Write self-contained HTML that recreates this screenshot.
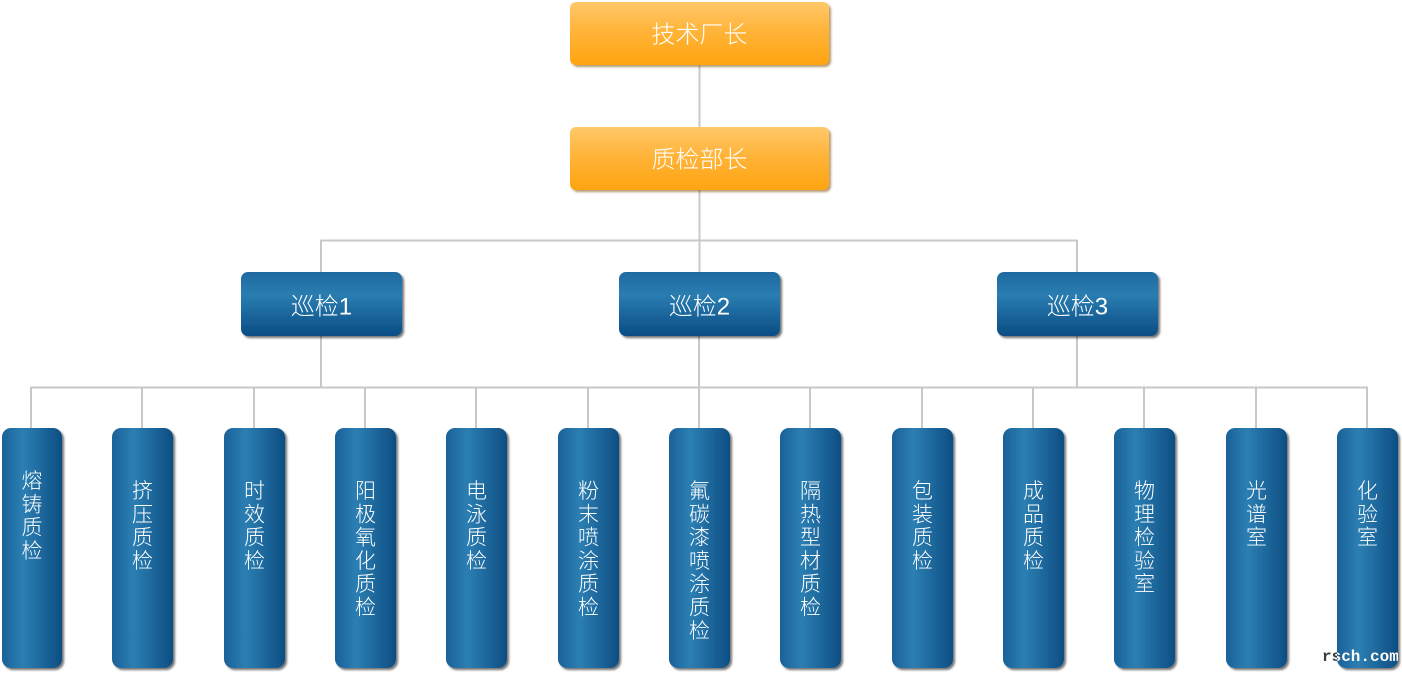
<!DOCTYPE html>
<html>
<head>
<meta charset="utf-8">
<style>
html,body{margin:0;padding:0;background:#fff;}
svg{display:block;}
text{font-family:"Liberation Sans","Noto Sans CJK SC","WenQuanYi Zen Hei",sans-serif;fill:#fff;font-weight:300;}
</style>
</head>
<body>
<svg width="1402" height="673" viewBox="0 0 1402 673" xmlns="http://www.w3.org/2000/svg">
<defs>
  <linearGradient id="og" x1="0" y1="0" x2="0" y2="1">
    <stop offset="0" stop-color="#ffc86a"/>
    <stop offset="0.45" stop-color="#ffb43a"/>
    <stop offset="1" stop-color="#ffa410"/>
  </linearGradient>
  <linearGradient id="bg" x1="0" y1="0" x2="0" y2="1">
    <stop offset="0" stop-color="#1f6aa0"/>
    <stop offset="0.35" stop-color="#2a7db1"/>
    <stop offset="1" stop-color="#0a4d84"/>
  </linearGradient>
  <linearGradient id="vg" x1="0" y1="0" x2="1" y2="0">
    <stop offset="0" stop-color="#1a6198"/>
    <stop offset="0.35" stop-color="#2c7fb3"/>
    <stop offset="1" stop-color="#0d4e83"/>
  </linearGradient>
  <filter id="sh" x="-10%" y="-10%" width="125%" height="125%">
    <feDropShadow dx="2" dy="2" stdDeviation="1" flood-color="#000" flood-opacity="0.55"/>
  </filter>
  <filter id="sho" x="-10%" y="-10%" width="125%" height="130%">
    <feDropShadow dx="2" dy="2" stdDeviation="1" flood-color="#7a4a00" flood-opacity="0.55"/>
  </filter>
  <clipPath id="lastbox">
    <rect x="1337" y="428" width="61" height="240" rx="9"/>
  </clipPath>
</defs>

<!-- connectors -->
<g stroke="#c8c8c8" stroke-width="2" fill="none">
  <line x1="699.5" y1="65" x2="699.5" y2="127"/>
  <line x1="699.5" y1="190" x2="699.5" y2="272"/>
  <line x1="320.5" y1="240.5" x2="1077.5" y2="240.5"/>
  <line x1="321" y1="240" x2="321" y2="272"/>
  <line x1="1077" y1="240" x2="1077" y2="272"/>
  <line x1="321" y1="336" x2="321" y2="388"/>
  <line x1="699" y1="336" x2="699" y2="388"/>
  <line x1="1077" y1="336" x2="1077" y2="388"/>
  <line x1="30" y1="387.5" x2="1368" y2="387.5"/>
  <line x1="31" y1="387" x2="31" y2="428"/>
  <line x1="142" y1="387" x2="142" y2="428"/>
  <line x1="254" y1="387" x2="254" y2="428"/>
  <line x1="365" y1="387" x2="365" y2="428"/>
  <line x1="476" y1="387" x2="476" y2="428"/>
  <line x1="588" y1="387" x2="588" y2="428"/>
  <line x1="699" y1="387" x2="699" y2="428"/>
  <line x1="810" y1="387" x2="810" y2="428"/>
  <line x1="922" y1="387" x2="922" y2="428"/>
  <line x1="1033" y1="387" x2="1033" y2="428"/>
  <line x1="1144" y1="387" x2="1144" y2="428"/>
  <line x1="1256" y1="387" x2="1256" y2="428"/>
  <line x1="1367" y1="387" x2="1367" y2="428"/>
</g>

<!-- top boxes -->
<rect x="570" y="2" width="259" height="63" rx="6" fill="url(#og)" filter="url(#sho)"/>
<text x="699.5" y="42.5" font-size="24" text-anchor="middle">技术厂长</text>
<rect x="570" y="127" width="259" height="63" rx="6" fill="url(#og)" filter="url(#sho)"/>
<text x="699.5" y="167.5" font-size="24" text-anchor="middle">质检部长</text>

<!-- middle boxes -->
<rect x="241" y="272" width="161" height="64" rx="7" fill="url(#bg)" filter="url(#sh)"/>
<text x="321.5" y="314.5" font-size="24" text-anchor="middle">巡检1</text>
<rect x="619" y="272" width="161" height="64" rx="7" fill="url(#bg)" filter="url(#sh)"/>
<text x="699.5" y="314.5" font-size="24" text-anchor="middle">巡检2</text>
<rect x="997" y="272" width="161" height="64" rx="7" fill="url(#bg)" filter="url(#sh)"/>
<text x="1077.5" y="314.5" font-size="24" text-anchor="middle">巡检3</text>

<!-- bottom boxes -->
<g filter="url(#sh)">
  <rect x="2" y="428" width="60" height="240" rx="9" fill="url(#vg)"/>
  <rect x="112" y="428" width="61" height="240" rx="9" fill="url(#vg)"/>
  <rect x="224" y="428" width="61" height="240" rx="9" fill="url(#vg)"/>
  <rect x="335" y="428" width="61" height="240" rx="9" fill="url(#vg)"/>
  <rect x="446" y="428" width="61" height="240" rx="9" fill="url(#vg)"/>
  <rect x="558" y="428" width="61" height="240" rx="9" fill="url(#vg)"/>
  <rect x="669" y="428" width="61" height="240" rx="9" fill="url(#vg)"/>
  <rect x="780" y="428" width="61" height="240" rx="9" fill="url(#vg)"/>
  <rect x="892" y="428" width="61" height="240" rx="9" fill="url(#vg)"/>
  <rect x="1003" y="428" width="61" height="240" rx="9" fill="url(#vg)"/>
  <rect x="1114" y="428" width="61" height="240" rx="9" fill="url(#vg)"/>
  <rect x="1226" y="428" width="61" height="240" rx="9" fill="url(#vg)"/>
  <rect x="1337" y="428" width="61" height="240" rx="9" fill="url(#vg)"/>
</g>

<g font-size="21" text-anchor="middle">
  <text x="32" y="488"><tspan x="32">熔</tspan><tspan x="32" dy="23.3">铸</tspan><tspan x="32" dy="23.3">质</tspan><tspan x="32" dy="23.3">检</tspan></text>
  <text x="142.5" y="498"><tspan x="142.5">挤</tspan><tspan x="142.5" dy="23.3">压</tspan><tspan x="142.5" dy="23.3">质</tspan><tspan x="142.5" dy="23.3">检</tspan></text>
  <text x="254.5" y="498"><tspan x="254.5">时</tspan><tspan x="254.5" dy="23.3">效</tspan><tspan x="254.5" dy="23.3">质</tspan><tspan x="254.5" dy="23.3">检</tspan></text>
  <text x="365.5" y="498"><tspan x="365.5">阳</tspan><tspan x="365.5" dy="23.3">极</tspan><tspan x="365.5" dy="23.3">氧</tspan><tspan x="365.5" dy="23.3">化</tspan><tspan x="365.5" dy="23.3">质</tspan><tspan x="365.5" dy="23.3">检</tspan></text>
  <text x="476.5" y="498"><tspan x="476.5">电</tspan><tspan x="476.5" dy="23.3">泳</tspan><tspan x="476.5" dy="23.3">质</tspan><tspan x="476.5" dy="23.3">检</tspan></text>
  <text x="588.5" y="498"><tspan x="588.5">粉</tspan><tspan x="588.5" dy="23.3">末</tspan><tspan x="588.5" dy="23.3">喷</tspan><tspan x="588.5" dy="23.3">涂</tspan><tspan x="588.5" dy="23.3">质</tspan><tspan x="588.5" dy="23.3">检</tspan></text>
  <text x="699.5" y="498"><tspan x="699.5">氟</tspan><tspan x="699.5" dy="23.3">碳</tspan><tspan x="699.5" dy="23.3">漆</tspan><tspan x="699.5" dy="23.3">喷</tspan><tspan x="699.5" dy="23.3">涂</tspan><tspan x="699.5" dy="23.3">质</tspan><tspan x="699.5" dy="23.3">检</tspan></text>
  <text x="810.5" y="498"><tspan x="810.5">隔</tspan><tspan x="810.5" dy="23.3">热</tspan><tspan x="810.5" dy="23.3">型</tspan><tspan x="810.5" dy="23.3">材</tspan><tspan x="810.5" dy="23.3">质</tspan><tspan x="810.5" dy="23.3">检</tspan></text>
  <text x="922.5" y="498"><tspan x="922.5">包</tspan><tspan x="922.5" dy="23.3">装</tspan><tspan x="922.5" dy="23.3">质</tspan><tspan x="922.5" dy="23.3">检</tspan></text>
  <text x="1033.5" y="498"><tspan x="1033.5">成</tspan><tspan x="1033.5" dy="23.3">品</tspan><tspan x="1033.5" dy="23.3">质</tspan><tspan x="1033.5" dy="23.3">检</tspan></text>
  <text x="1144.5" y="498"><tspan x="1144.5">物</tspan><tspan x="1144.5" dy="23.3">理</tspan><tspan x="1144.5" dy="23.3">检</tspan><tspan x="1144.5" dy="23.3">验</tspan><tspan x="1144.5" dy="23.3">室</tspan></text>
  <text x="1256.5" y="498"><tspan x="1256.5">光</tspan><tspan x="1256.5" dy="23.3">谱</tspan><tspan x="1256.5" dy="23.3">室</tspan></text>
  <text x="1367.5" y="498"><tspan x="1367.5">化</tspan><tspan x="1367.5" dy="23.3">验</tspan><tspan x="1367.5" dy="23.3">室</tspan></text>
</g>

<text x="1322" y="661" font-size="16" style="font-family:'Liberation Mono',monospace;font-weight:bold;fill:#3a3a3a;">rsch.com</text>
<text x="1322" y="661" font-size="16" clip-path="url(#lastbox)" style="font-family:'Liberation Mono',monospace;font-weight:bold;fill:#fff;">rsch.com</text>
</svg>
</body>
</html>
